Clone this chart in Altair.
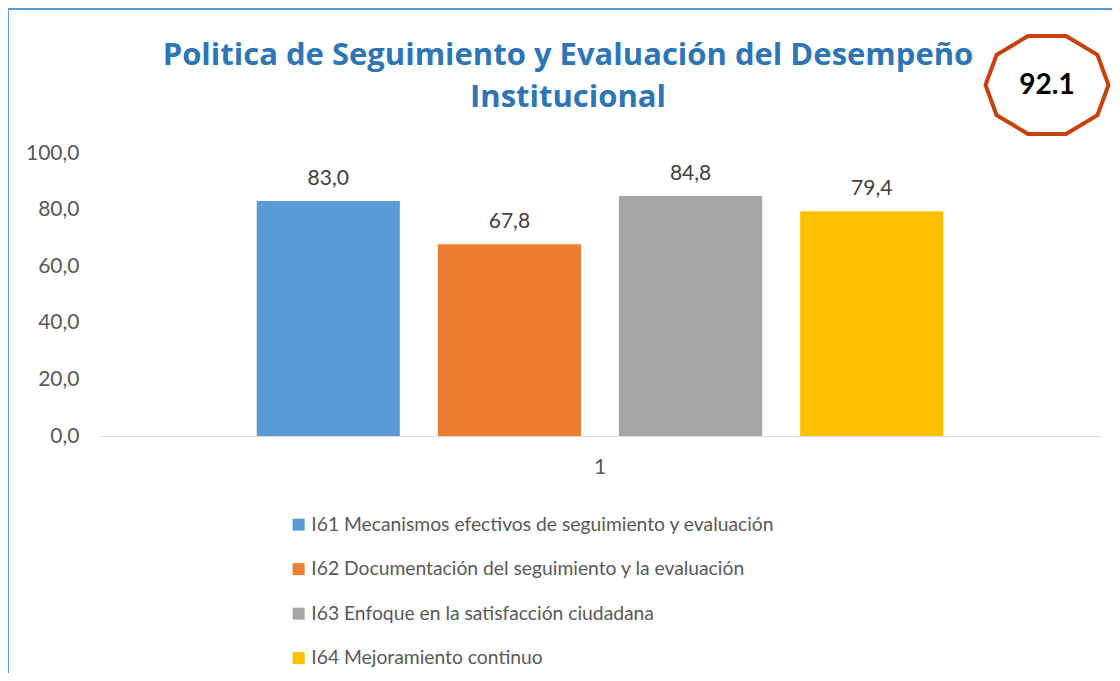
import altair as alt
import pandas as pd

categories = ["1"]
series = [
    "I61 Mecanismos efectivos de seguimiento y evaluación",
    "I62 Documentación del seguimiento y la evaluación",
    "I63 Enfoque en la satisfacción ciudadana",
    "I64 Mejoramiento continuo",
]
values = [83.0, 67.8, 84.8, 79.4]
colors = ["#5B9BD5", "#ED7D31", "#A5A5A5", "#FFC000"]
y_ticks = [0, 20, 40, 60, 80, 100]
score = [92.1]
title_lines = ["Politica de Seguimiento y Evaluación del Desempeño", "Institucional"]

FONT = "Lato"

df = pd.DataFrame({"cat": categories * len(series), "serie": series, "value": values})
score_df = pd.DataFrame({"score": score})

base = alt.Chart(df).encode(
    x=alt.X(
        "cat:N",
        scale=alt.Scale(paddingInner=0, paddingOuter=0.19),
        axis=alt.Axis(
            title=None, labelAngle=0, ticks=False, domainColor="#D9D9D9",
            domainWidth=1, labelPadding=20, labelFontSize=21,
            labelColor="#595959", labelFont=FONT,
        ),
    ),
    xOffset=alt.XOffset(
        "serie:N", sort=series,
        scale=alt.Scale(paddingInner=0.21, paddingOuter=0.105),
    ),
)

bars = base.mark_bar().encode(
    y=alt.Y(
        "value:Q",
        scale=alt.Scale(domain=[0, 100], nice=False),
        axis=alt.Axis(
            title=None, values=y_ticks, grid=False, domain=False, ticks=False,
            labelExpr="replace(format(datum.value, '.1f'), '.', ',')",
            labelFontSize=21, labelColor="#595959", labelPadding=21, labelFont=FONT,
        ),
    ),
    color=alt.Color(
        "serie:N",
        scale=alt.Scale(domain=series, range=colors),
        legend=alt.Legend(
            title=None, orient="none", legendX=189, legendY=362, direction="vertical",
            symbolType="square", symbolSize=144, symbolStrokeWidth=0,
            labelFontSize=19.3, labelColor="#595959", labelFont=FONT,
            rowPadding=24.5, labelOffset=3, padding=0, labelLimit=800,
        ),
    ),
)

labels = base.mark_text(
    dy=-16, baseline="alphabetic", fontSize=21, color="#404040", font=FONT
).transform_calculate(
    label="replace(format(datum.value, '.1f'), '.', ',')"
).encode(y="value:Q", text="label:N")

border = alt.Chart(score_df).mark_rect(
    fillOpacity=0, stroke="#5B9BD5", strokeWidth=2
).encode(
    x=alt.value(-92), x2=alt.value(1200), y=alt.value(-144), y2=alt.value(800)
)

decagon_path = (
    "M -0.31 -0.795 L 0.31 -0.795 L 0.82 -0.49 L 1 0 L 0.82 0.49 L 0.31 0.795 "
    "L -0.31 0.795 L -0.82 0.49 L -1 0 L -0.82 -0.49 Z"
)
badge = alt.Chart(score_df).mark_point(
    shape=decagon_path, size=15129, filled=False, fill="white", fillOpacity=1,
    stroke="#C8400C", strokeWidth=4, opacity=1,
).encode(x=alt.value(947), y=alt.value(-68))

badge_text = alt.Chart(score_df).mark_text(
    fontSize=28, fontWeight="bold", color="#000000", font=FONT
).encode(x=alt.value(947), y=alt.value(-67), text=alt.Text("score:Q", format=".1f"))

chart = alt.layer(border, bars, labels, badge, badge_text).properties(
    width=1000,
    height=283,
    title=alt.TitleParams(
        text=title_lines, fontSize=31, fontWeight="bold", color="#2E75B6",
        font="Open Sans", anchor="middle", dx=-32, offset=0, dy=106, lineHeight=42,
        frame="group",
    ),
    autosize=alt.AutoSizeParams(type="none"),
    padding={"left": 92, "top": 145, "right": 12, "bottom": 237},
    background="white",
).configure_view(strokeWidth=0, stroke=None)

chart.save("out.html", embed_options={"renderer": "svg", "actions": False})
